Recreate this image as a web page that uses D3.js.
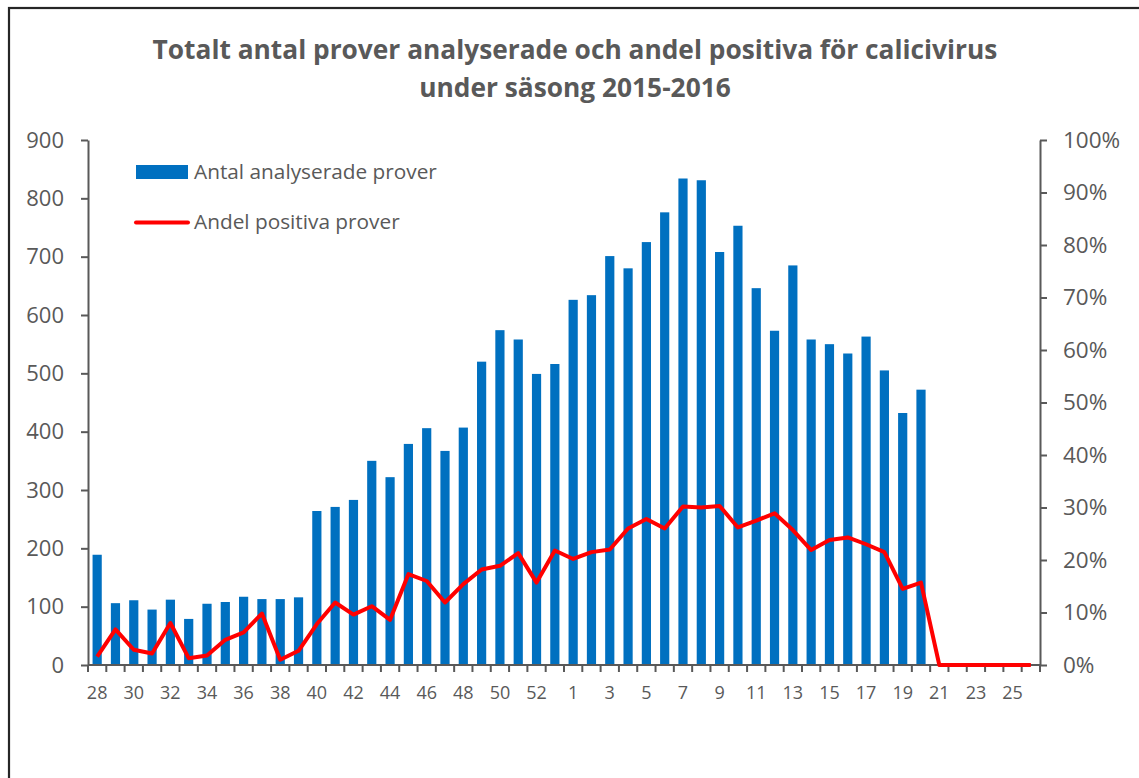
<!DOCTYPE html>
<html>
<head>
<meta charset="utf-8">
<script src="https://cdn.jsdelivr.net/npm/d3@7"></script>
<style>
  html, body { margin: 0; padding: 0; background: #fff; }
  svg { display: block; }
</style>
</head>
<body>
<svg id="chart" width="1139" height="778"></svg>
<script>
// ---- Data ----
const weeks = ["28","29","30","31","32","33","34","35","36","37","38","39","40","41","42","43","44","45","46","47","48","49","50","51","52","53",
               "1","2","3","4","5","6","7","8","9","10","11","12","13","14","15","16","17","18","19","20","21","22","23","24","25","26"];
const antalProver = [189,106,111,95,112,79,105,108,117,113,113,116,264,271,283,350,322,379,406,367,407,520,574,558,499,516,
                     626,634,701,680,725,776,834,831,708,753,646,573,685,558,550,534,563,505,432,472];
const andelPositiva = [1.6,6.8,2.9,2.2,8.0,1.3,1.8,4.8,6.2,9.8,1.0,2.7,7.8,11.9,9.6,11.2,8.6,17.3,16.0,11.9,15.4,18.2,18.9,21.3,15.7,21.8,
                       20.2,21.5,22.0,26.0,27.8,26.0,30.2,30.0,30.3,26.2,27.5,28.9,25.7,21.9,23.8,24.3,23.0,21.5,14.5,15.7,0,0,0,0,0,0];
const leftTicks = [0,100,200,300,400,500,600,700,800,900];
const rightTicks = [0,10,20,30,40,50,60,70,80,90,100];
const titleLines = ["Totalt antal prover analyserade och andel positiva för calicivirus", "under säsong 2015-2016"];
const legendLabels = ["Antal analyserade prover", "Andel positiva prover"];

// ---- Layout ----
const svg = d3.select("#chart");
const font = "'Open Sans', 'Noto Sans', sans-serif";
const textColor = "#595959";
const axisColor = "#595959";
const plot = { left: 88, right: 1040, top: 140, bottom: 665 };

// outer frame
svg.append("rect")
  .attr("x", 9).attr("y", 8).attr("width", 1300).attr("height", 900)
  .attr("fill", "none").attr("stroke", "#262626").attr("stroke-width", 2.2);

// title
svg.append("g").selectAll("text").data(titleLines).join("text")
  .attr("x", 575).attr("y", (d, i) => 59 + i * 38)
  .attr("text-anchor", "middle")
  .attr("font-family", font).attr("font-weight", "bold").attr("font-size", 26.3)
  .attr("fill", textColor)
  .text(d => d);

// scales
const xOuter = d3.scaleBand().domain(weeks).range([plot.left, plot.right]);
const yL = d3.scaleLinear().domain([0, 900]).range([plot.bottom, plot.top]);
const yR = d3.scaleLinear().domain([0, 100]).range([plot.bottom, plot.top]);

// bars
svg.append("g").selectAll("rect").data(antalProver).join("rect")
  .attr("x", (d, i) => xOuter(weeks[i]) + xOuter.bandwidth() / 2 - 4.6)
  .attr("width", 9.2)
  .attr("y", d => yL(d))
  .attr("height", d => yL(0) - yL(d))
  .attr("fill", "#0070C0");

// left axis
const gL = svg.append("g").attr("transform", `translate(${plot.left},0)`)
  .call(d3.axisLeft(yL).tickValues(leftTicks).tickSize(7).tickSizeOuter(0).tickPadding(17));
gL.select(".domain").attr("stroke", axisColor).attr("stroke-width", 2);
gL.selectAll(".tick line").attr("stroke", axisColor).attr("stroke-width", 2);
gL.selectAll(".tick text").attr("font-family", font).attr("font-size", 22).attr("fill", textColor);

// right axis
const gR = svg.append("g").attr("transform", `translate(${plot.right},0)`)
  .call(d3.axisRight(yR).tickValues(rightTicks).tickFormat(d => d + "%").tickSize(7).tickSizeOuter(0).tickPadding(16));
gR.select(".domain").attr("stroke", axisColor).attr("stroke-width", 2);
gR.selectAll(".tick line").attr("stroke", axisColor).attr("stroke-width", 2);
gR.selectAll(".tick text").attr("font-family", font).attr("font-size", 22.5).attr("fill", textColor);

// bottom axis: ticks at category boundaries
const gB = svg.append("g").attr("transform", `translate(0,${plot.bottom})`);
gB.append("line").attr("x1", plot.left).attr("x2", plot.right).attr("y1", 0).attr("y2", 0)
  .attr("stroke", axisColor).attr("stroke-width", 2);
gB.selectAll("line.tk").data(d3.range(weeks.length + 1)).join("line").attr("class", "tk")
  .attr("x1", i => plot.left + i * xOuter.step()).attr("x2", i => plot.left + i * xOuter.step())
  .attr("y1", 0).attr("y2", 7).attr("stroke", axisColor).attr("stroke-width", 2);
gB.selectAll("text").data(weeks.filter((w, i) => i % 2 === 0)).join("text")
  .attr("x", w => xOuter(w) + xOuter.bandwidth() / 2)
  .attr("y", 34)
  .attr("text-anchor", "middle")
  .attr("font-family", font).attr("font-size", 18).attr("fill", textColor)
  .text(w => w);

// line
const line = d3.line()
  .x((d, i) => xOuter(weeks[i]) + xOuter.bandwidth() / 2)
  .y(d => yR(d));
svg.append("path").datum(andelPositiva)
  .attr("d", line)
  .attr("fill", "none").attr("stroke", "#FF0000").attr("stroke-width", 4)
  .attr("stroke-linejoin", "round");

// legend
const lg = svg.append("g");
lg.append("rect").attr("x", 136).attr("y", 165).attr("width", 52).attr("height", 14).attr("fill", "#0070C0");
lg.append("line").attr("x1", 136).attr("x2", 188).attr("y1", 222.5).attr("y2", 222.5)
  .attr("stroke", "#FF0000").attr("stroke-width", 4).attr("stroke-linecap", "round");
lg.selectAll("text").data(legendLabels).join("text")
  .attr("x", 194).attr("y", (d, i) => 179 + i * 50)
  .attr("font-family", font).attr("font-size", 20.8).attr("fill", textColor)
  .text(d => d);
</script>
</body>
</html>
